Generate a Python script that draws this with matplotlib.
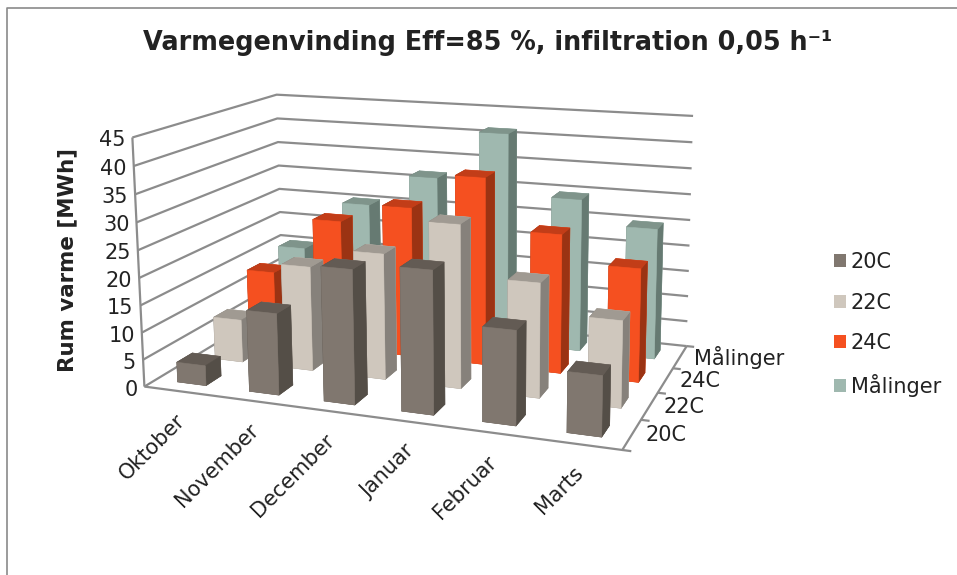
import numpy as np
import matplotlib
matplotlib.use("Agg")
import matplotlib.pyplot as plt
from matplotlib.patches import Patch
from matplotlib.lines import Line2D

W_PX, H_PX = 957, 575

# Chart data (MWh of room heating per month and scenario)
months = ["Oktober", "November", "December", "Januar", "Februar", "Marts"]
series_names = ["20C", "22C", "24C", "Målinger"]
values_20c = [3.7, 14.8, 24.0, 25.2, 16.4, 10.4]
values_22c = [8.1, 19.6, 23.3, 29.9, 20.7, 15.5]
values_24c = [13.7, 25.0, 28.8, 35.5, 26.0, 21.0]
values_maal = [15.2, 25.3, 31.8, 41.3, 29.6, 25.0]
z_ticks = list(range(0, 50, 5))

series_values = [values_20c, values_22c, values_24c, values_maal]

# (front, top, side) shades for each series
series_colors = [
    ("#80776f", "#635b54", "#544e47"),
    ("#cfc7bd", "#a09a92", "#86817b"),
    ("#f55020", "#c23d18", "#9b3313"),
    ("#9fb8af", "#7f948b", "#667a72"),
]
GRID = "#8c8c8c"
TEXT = "#222222"

# View calibration: box corners in data space and where they land on the canvas
box_corners = np.array([
    (0, 0, 0), (0, 0, 45), (0, 4, 45), (6, 4, 45),
    (6, 4, 0), (6, 0, 0), (0, 4, 0),
], float)
canvas_corners = np.array([
    (145, 387), (132, 137), (277, 95), (693, 116),
    (687, 346), (622, 450), (282, 303),
], float)


def fit_camera(src, dst):
    rows = []
    for (x, y, z), (u, v) in zip(src, dst):
        rows.append([x, y, z, 1, 0, 0, 0, 0, -u * x, -u * y, -u * z, -u])
        rows.append([0, 0, 0, 0, x, y, z, 1, -v * x, -v * y, -v * z, -v])
    h = np.linalg.svd(np.array(rows))[2][-1].reshape(3, 4)
    return h / h[2, 3]


camera = fit_camera(box_corners, canvas_corners)

fig = plt.figure(figsize=(W_PX / 100, H_PX / 100), dpi=100, facecolor="white")
ax = fig.add_axes([0, 0, 1, 1], projection="3d")
ax.set_axis_off()
ax.set_proj_type("ortho")
ax.computed_zorder = False
ax.patch.set_alpha(0)
ax.apply_aspect = lambda position=None: None


def perspective_matrix():
    vl = ax.viewLim
    sx = (vl.x1 - vl.x0) / W_PX
    sy = -(vl.y1 - vl.y0) / H_PX
    row_w = camera[2]
    row_x = sx * camera[0] + vl.x0 * row_w
    row_y = sy * camera[1] + vl.y1 * row_w
    # Depth grows with the homogeneous term, so painter's sorting stays correct
    row_z = row_w - np.array([0, 0, 0, 0.5])
    return np.vstack([row_x, row_y, row_z, row_w])


ax.get_proj = perspective_matrix
ax.M = perspective_matrix()


def canvas_xy(x, y, z):
    p = camera @ np.array([x, y, z, 1.0])
    return p[0] / p[2], p[1] / p[2]


def put_text(px, py, s, **kw):
    ax.text2D(px / W_PX, 1 - py / H_PX, s, transform=ax.transAxes,
              color=TEXT, zorder=5, **kw)


# Walls and floor outline
line_kw = dict(color=GRID, lw=1.6, zorder=1, solid_capstyle="butt")
for z in z_ticks:
    ax.plot([0, 0, 6], [0, 4, 4], [z, z, z], **line_kw)
ax.plot([0, 0], [0, 0], [0, 45], **line_kw)
ax.plot([0, 6, 6], [0, 0, 4], [0, 0, 0], **line_kw)

# Short ticks along the depth axis
for j in range(0, 5):
    ax.plot([6, 6.1], [j, j], [0, 0], **line_kw)

# Bars, painted back row first and left to right within a row
BAR = 0.4
for j in range(len(series_names) - 1, -1, -1):
    front, top, side = series_colors[j]
    faces = [top, top, front, front, side, side]
    for i, v in enumerate(series_values[j]):
        ax.bar3d(i + (1 - BAR) / 2, j + (1 - BAR) / 2, 0, BAR, BAR, v,
                 color=faces, edgecolor=faces, linewidth=0.4,
                 shade=False, zorder=2)

# Value axis labels
for z in z_ticks:
    px, py = canvas_xy(0, 0, z)
    put_text(px - 7, py + 3, str(z), ha="right", va="center", fontsize=15)

# Month labels, slanted under the front edge
for i, m in enumerate(months):
    px, py = canvas_xy(i + 0.5, 0, 0)
    put_text(px + 2, py + 26, m, ha="right", va="center", rotation=45,
             rotation_mode="anchor", fontsize=15)

# Depth axis labels
for j, name in enumerate(series_names):
    px, py = canvas_xy(6, j + 0.5, 0)
    put_text(px + 14, py + 1, name, ha="left", va="center", fontsize=15)

# Title and value axis caption
put_text(488, 43, "Varmegenvinding Eff=85 %, infiltration 0,05 h⁻¹", ha="center",
         va="center", fontsize=18.4, fontweight="bold")
put_text(67, 260, "Rum varme [MWh]", ha="center", va="center", rotation=90,
         fontsize=15.4, fontweight="bold")

# Legend
handles = [Patch(facecolor=c[0], edgecolor="none") for c in series_colors]
leg = fig.legend(handles, series_names, loc="upper left",
                 bbox_to_anchor=(828 / W_PX, 1 - 246 / H_PX),
                 frameon=False, fontsize=15, handlelength=0.58,
                 handleheight=0.58, handletextpad=0.22, labelspacing=0.98,
                 labelcolor=TEXT, borderpad=0.3, borderaxespad=0)

# Outer chart frame, running off the top and left canvas edges
fig.add_artist(Line2D([7.5 / W_PX, 7.5 / W_PX, 1], [0, 1 - 7.5 / H_PX, 1 - 7.5 / H_PX],
                      transform=fig.transFigure, color="#8a8a8a", lw=1.2))

fig.savefig("out.png", dpi=100, facecolor="white")
